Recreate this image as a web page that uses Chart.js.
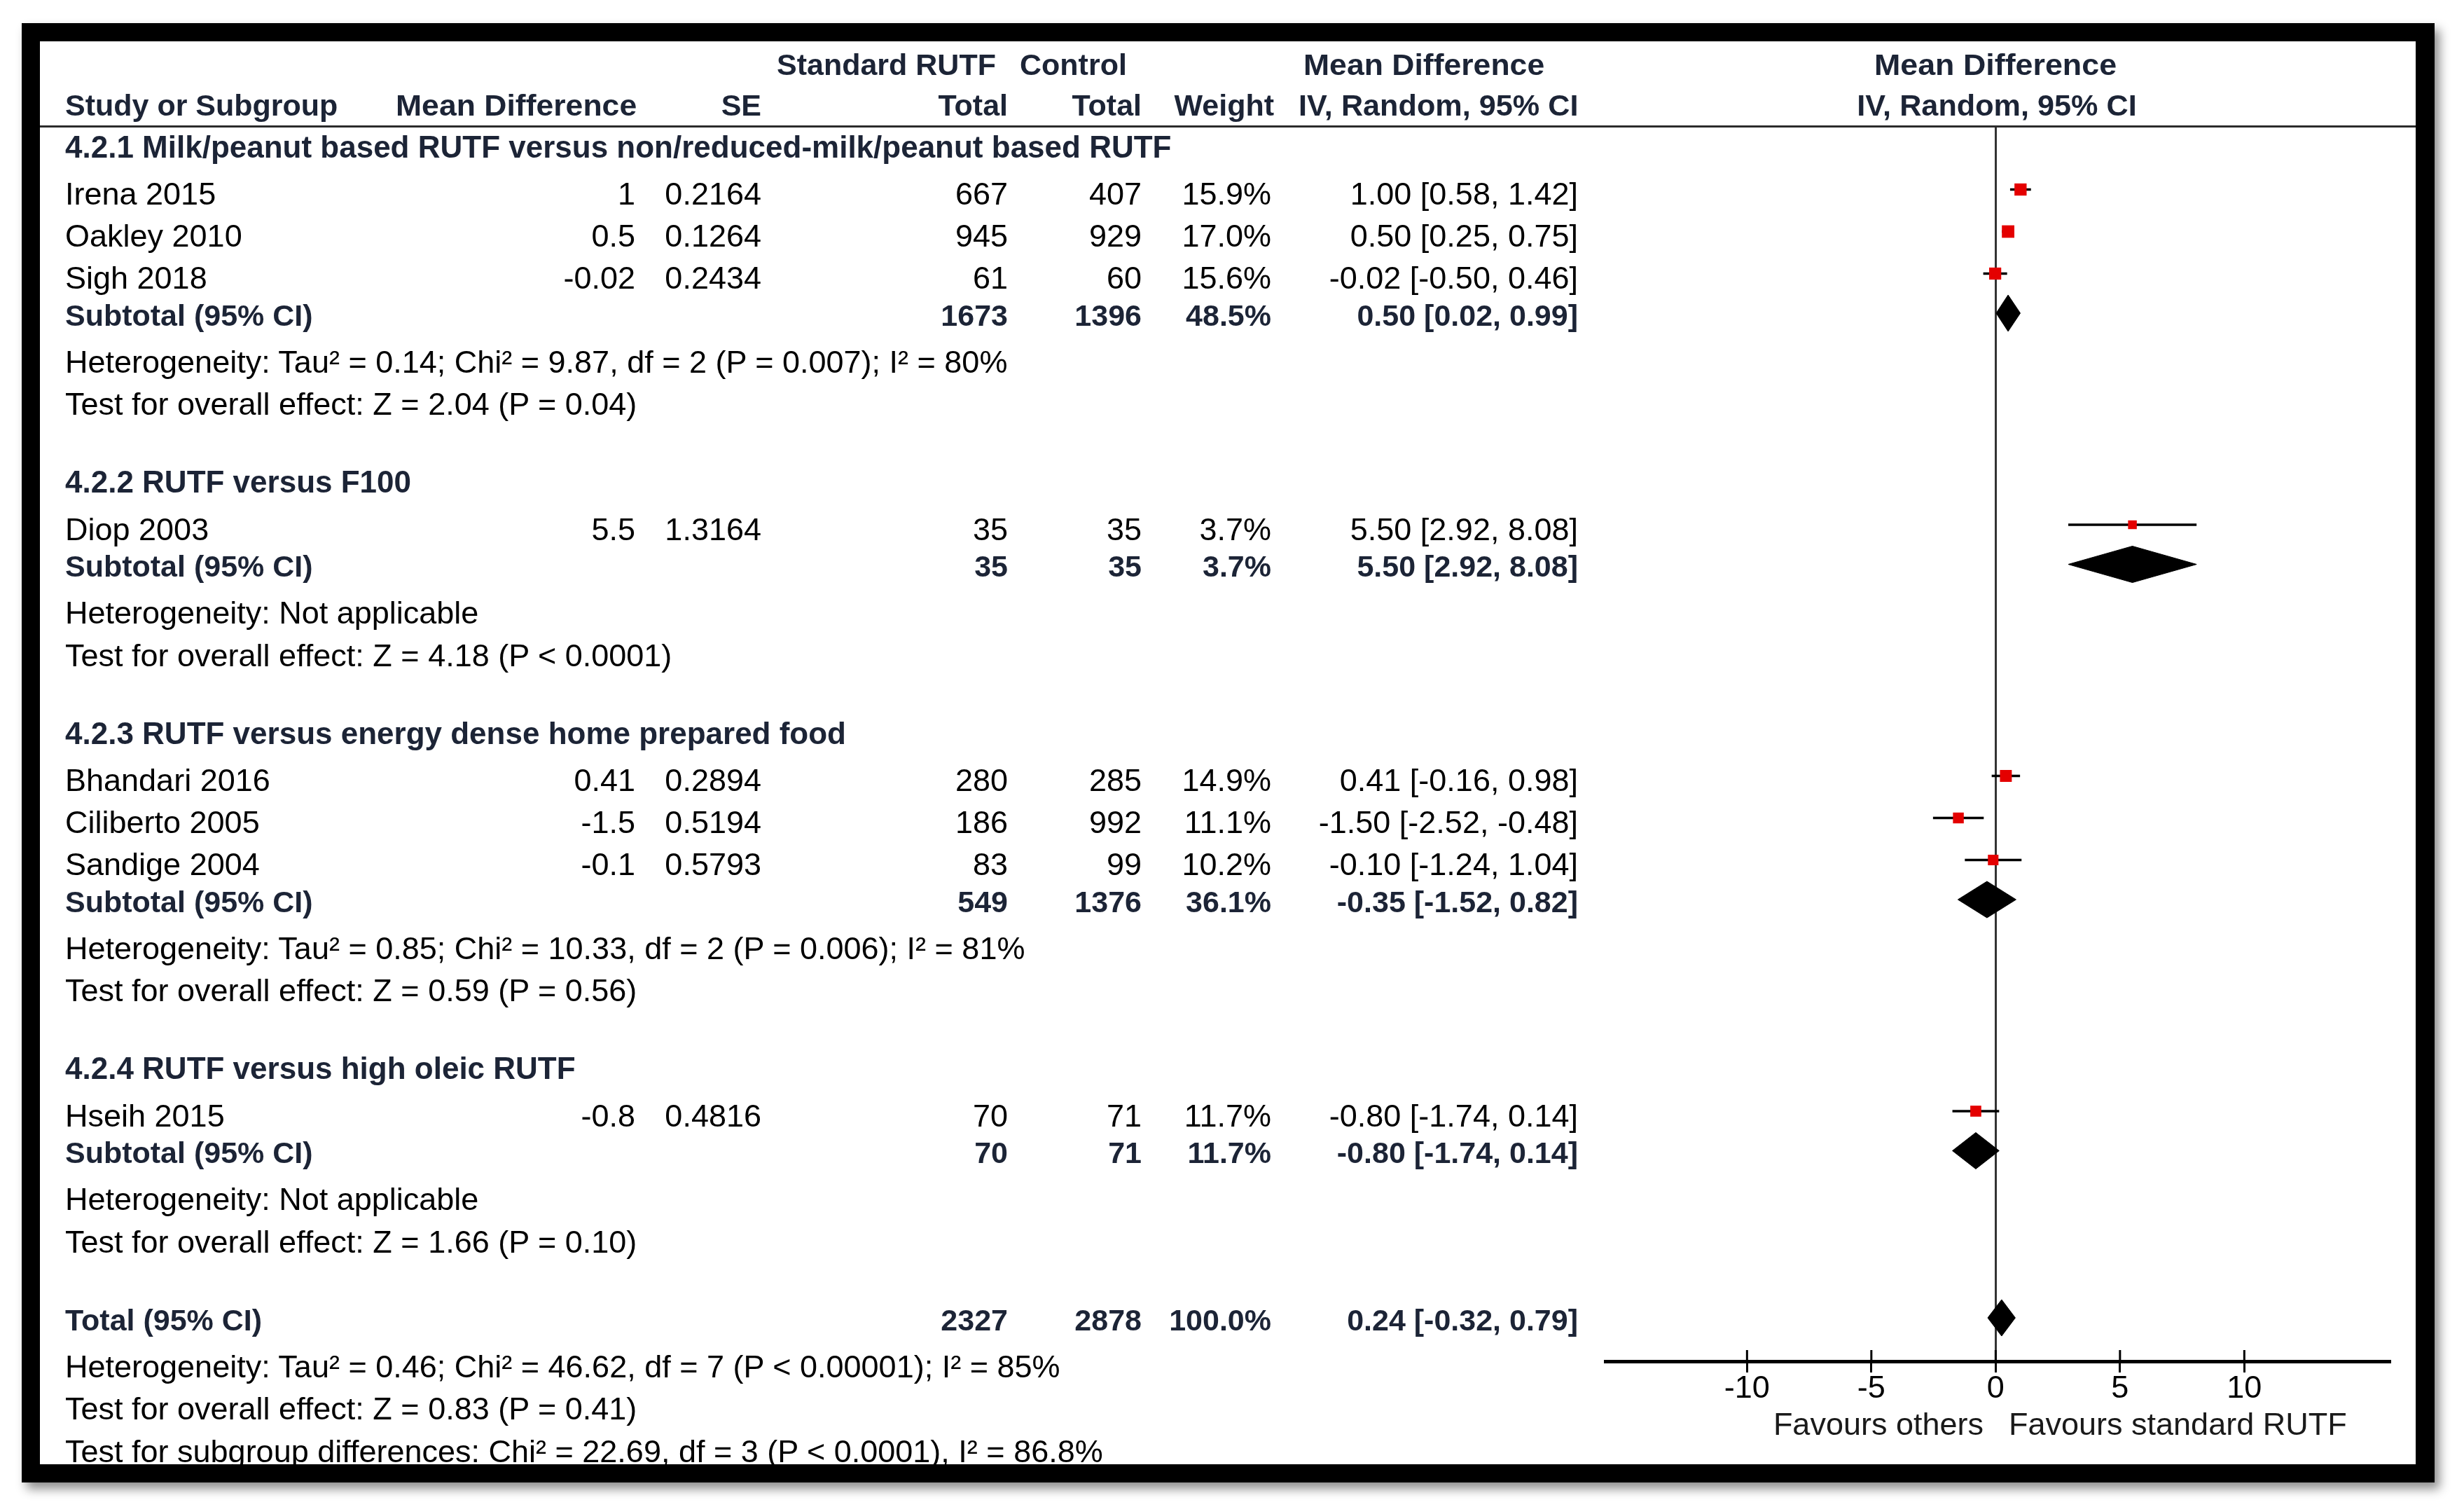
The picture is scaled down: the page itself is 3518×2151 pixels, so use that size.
<!DOCTYPE html>
<html>
<head>
<meta charset="utf-8">
<title>Forest plot - Standard RUTF versus others</title>
<script src="https://cdn.jsdelivr.net/npm/chart.js@4.4.1/dist/chart.umd.min.js"></script>
<style>
  html, body { margin: 0; padding: 0; background: #fff; width: 3518px; height: 2151px; overflow: hidden; }
  #frame { position: absolute; left: 31px; top: 33px; width: 3445px; height: 2083px; background: #000;
           box-shadow: 7px 9px 14px rgba(0, 0, 0, 0.45); }
  #inner { position: absolute; left: 26px; top: 26px; width: 3392px; height: 2031px; background: #fff; overflow: hidden; }
  #plot { position: absolute; left: 0; top: 0; }
  #rule { position: absolute; left: 0; top: 120px; width: 3392px; height: 3px; background: #2b2b2b; }
  .t { position: absolute; white-space: nowrap; font-family: "Liberation Sans", Arial, sans-serif; color: #000; }
  .b { font-weight: bold; color: #1c2436; }
</style>
</head>
<body>
<div id="frame">
  <div id="inner">
    <canvas id="plot" width="3392" height="2031"></canvas>
    <div id="rule"></div>
  </div>
</div>
<script>
// ---- values ----
const groupTitles = [
  '4.2.1 Milk/peanut based RUTF versus non/reduced-milk/peanut based RUTF',
  '4.2.2 RUTF versus F100',
  '4.2.3 RUTF versus energy dense home prepared food',
  '4.2.4 RUTF versus high oleic RUTF'
];
const studyNames = ['Irena 2015', 'Oakley 2010', 'Sigh 2018', 'Diop 2003', 'Bhandari 2016', 'Ciliberto 2005', 'Sandige 2004', 'Hseih 2015'];
const studyGroup = [0, 0, 0, 1, 2, 2, 2, 3];
const meanDiff = [1, 0.5, -0.02, 5.5, 0.41, -1.5, -0.1, -0.8];
const stdErr = [0.2164, 0.1264, 0.2434, 1.3164, 0.2894, 0.5194, 0.5793, 0.4816];
const ciLow = [0.58, 0.25, -0.50, 2.92, -0.16, -2.52, -1.24, -1.74];
const ciHigh = [1.42, 0.75, 0.46, 8.08, 0.98, -0.48, 1.04, 0.14];
const expTotal = [667, 945, 61, 35, 280, 186, 83, 70];
const ctrlTotal = [407, 929, 60, 35, 285, 992, 99, 71];
const weights = [15.9, 17.0, 15.6, 3.7, 14.9, 11.1, 10.2, 11.7];

const subMean = [0.50, 5.50, -0.35, -0.80];
const subLow = [0.02, 2.92, -1.52, -1.74];
const subHigh = [0.99, 8.08, 0.82, 0.14];
const subExp = [1673, 35, 549, 70];
const subCtrl = [1396, 35, 1376, 71];
const subWeight = [48.5, 3.7, 36.1, 11.7];
const subHetero = [
  'Heterogeneity: Tau² = 0.14; Chi² = 9.87, df = 2 (P = 0.007); I² = 80%',
  'Heterogeneity: Not applicable',
  'Heterogeneity: Tau² = 0.85; Chi² = 10.33, df = 2 (P = 0.006); I² = 81%',
  'Heterogeneity: Not applicable'
];
const subEffect = [
  'Test for overall effect: Z = 2.04 (P = 0.04)',
  'Test for overall effect: Z = 4.18 (P < 0.0001)',
  'Test for overall effect: Z = 0.59 (P = 0.56)',
  'Test for overall effect: Z = 1.66 (P = 0.10)'
];

const totalMean = 0.24, totalLow = -0.32, totalHigh = 0.79;
const totalExp = 2327, totalCtrl = 2878, totalWeight = 100.0;
const totalNotes = [
  'Heterogeneity: Tau² = 0.46; Chi² = 46.62, df = 7 (P < 0.00001); I² = 85%',
  'Test for overall effect: Z = 0.83 (P = 0.41)',
  'Test for subgroup differences: Chi² = 22.69, df = 3 (P < 0.0001), I² = 86.8%'
];

const tickValues = [-10, -5, 0, 5, 10];
const axisLabels = ['Favours others', 'Favours standard RUTF'];

// ---- layout (page pixels) ----
const OX = 57, OY = 59;
const REG = 45, BOLD = 43, HEAD = 44;
const COL = { name: 93, md: 907, se: 1087, exp: 1439, ctrl: 1630, wt: 1815, ci: 2253 };
const GAP = {
  'heading>study': 67.5, 'study>study': 60, 'study>subtotal': 52.5, 'subtotal>note': 67,
  'note>note': 60.5, 'note>heading': 111, 'note>total': 111, 'total>note': 67
};

// row list in drawing order, baselines accumulated from the gaps
const rows = [];
groupTitles.forEach((title, g) => {
  rows.push({ kind: 'heading', g });
  studyNames.forEach((n, i) => { if (studyGroup[i] === g) rows.push({ kind: 'study', i }); });
  rows.push({ kind: 'subtotal', g });
  rows.push({ kind: 'note', text: subHetero[g] });
  rows.push({ kind: 'note', text: subEffect[g] });
});
rows.push({ kind: 'total' });
totalNotes.forEach(t => rows.push({ kind: 'note', text: t }));

let yPos = 225;
rows.forEach((r, k) => {
  if (k > 0) yPos += GAP[rows[k - 1].kind + '>' + r.kind];
  r.y = yPos;
});

const ciText = (m, lo, hi) => `${m.toFixed(2)} [${lo.toFixed(2)}, ${hi.toFixed(2)}]`;
const squareSide = w => 11 + 0.4 * w;

// ---- datasets ----
const datasets = [];
const squares = [];
const squareSizes = [];
function diamond(m, lo, hi, yc) {
  const h = 26;
  datasets.push({
    data: [{ x: lo, y: yc }, { x: m, y: yc - h }, { x: hi, y: yc }, { x: m, y: yc + h }, { x: lo, y: yc }],
    showLine: true, fill: 'shape', tension: 0,
    borderColor: '#000', backgroundColor: '#000', borderWidth: 1,
    pointRadius: 0, order: 1
  });
}
rows.forEach(r => {
  if (r.kind === 'study') {
    const yc = r.y - 22;
    datasets.push({
      data: [{ x: ciLow[r.i], y: yc }, { x: ciHigh[r.i], y: yc }],
      showLine: true, borderColor: '#000', borderWidth: 3.5, pointRadius: 0, order: 3
    });
    squares.push({ x: meanDiff[r.i], y: yc });
    squareSizes.push(squareSide(weights[r.i]));
  } else if (r.kind === 'subtotal') {
    diamond(subMean[r.g], subLow[r.g], subHigh[r.g], r.y - 18);
  } else if (r.kind === 'total') {
    diamond(totalMean, totalLow, totalHigh, r.y - 18);
  }
});
datasets.push({
  data: squares,
  pointStyle: 'rect',
  pointRadius: ctx => squareSizes[ctx.dataIndex] / Math.SQRT2,
  backgroundColor: '#e40000', borderColor: '#e40000', borderWidth: 0,
  order: 0
});

// upper half of the tick marks (they cross the axis line)
const tickStubs = {
  id: 'tickStubs',
  afterDraw(chart) {
    const xs = chart.scales.x;
    const yb = chart.chartArea.bottom;
    const c = chart.ctx;
    c.save();
    c.strokeStyle = '#000';
    c.lineWidth = 3;
    tickValues.forEach(v => {
      const px = xs.getPixelForValue(v);
      c.beginPath();
      c.moveTo(px, yb - 16);
      c.lineTo(px, yb);
      c.stroke();
    });
    c.restore();
  }
};

const ctx = document.getElementById('plot').getContext('2d');
const chart = new Chart(ctx, {
  type: 'scatter',
  data: { datasets },
  options: {
    responsive: false,
    animation: false,
    devicePixelRatio: 1,
    events: [],
    layout: { padding: { left: 2235, right: 37, top: 121, bottom: 84 } },
    plugins: { legend: { display: false }, tooltip: { enabled: false } },
    scales: {
      x: {
        type: 'linear', min: -15.7, max: 15.85,
        afterBuildTicks: s => { s.ticks = tickValues.map(v => ({ value: v })); },
        ticks: {
          color: '#000', padding: 1,
          font: { family: '"Liberation Sans", Arial, sans-serif', size: 45, lineHeight: 1 },
          callback: v => String(v)
        },
        grid: {
          drawOnChartArea: true,
          color: c => (c.tick && c.tick.value === 0 ? '#333' : 'rgba(0,0,0,0)'),
          lineWidth: 3, tickColor: '#000', tickWidth: 3, tickLength: 16
        },
        border: { display: true, color: '#000', width: 5 }
      },
      y: { type: 'linear', min: 180, max: 1943, reverse: true, display: false }
    }
  },
  plugins: [tickStubs]
});

// ---- table text ----
const inner = document.getElementById('inner');
const W = inner.clientWidth;
const py = v => chart.scales.y.getPixelForValue(v);

function put(text, x, base, align, bold, size, fit) {
  const el = document.createElement('div');
  el.className = bold ? 't b' : 't';
  el.textContent = text;
  el.style.fontSize = size + 'px';
  el.style.lineHeight = size + 'px';
  el.style.top = (py(base) - 0.8465 * size) + 'px';
  const ix = x - OX;
  let shift = '';
  if (align === 'right') { el.style.right = (W - ix) + 'px'; el.style.transformOrigin = 'right center'; }
  else if (align === 'center') { el.style.left = ix + 'px'; shift = 'translateX(-50%) '; el.style.transformOrigin = 'center center'; }
  else { el.style.left = ix + 'px'; el.style.transformOrigin = 'left center'; }
  inner.appendChild(el);
  let t = shift;
  if (fit) t += `scaleX(${fit / el.offsetWidth})`;
  if (t) el.style.transform = t;
  return el;
}

// column headers
put('Standard RUTF', 1109, 107, 'left', true, BOLD);
put('Control', 1456, 107, 'left', true, BOLD);
put('Mean Difference', 1861, 107, 'left', true, BOLD, 344);
put('Mean Difference', 2849, 107, 'center', true, BOLD, 346);
put('Study or Subgroup', COL.name, 165, 'left', true, BOLD);
put('Mean Difference', 909, 165, 'right', true, BOLD, 344);
put('SE', COL.se, 165, 'right', true, BOLD);
put('Total', COL.exp, 165, 'right', true, BOLD);
put('Total', COL.ctrl, 165, 'right', true, BOLD);
put('Weight', 1819, 165, 'right', true, BOLD);
put('IV, Random, 95% CI', COL.ci, 165, 'right', true, BOLD, 399);
put('IV, Random, 95% CI', 2851, 165, 'center', true, BOLD, 399);

rows.forEach(r => {
  if (r.kind === 'heading') {
    put(groupTitles[r.g], COL.name, r.y, 'left', true, HEAD);
  } else if (r.kind === 'study') {
    const i = r.i;
    put(studyNames[i], COL.name, r.y, 'left', false, REG);
    put(String(meanDiff[i]), COL.md, r.y, 'right', false, REG);
    put(String(stdErr[i]), COL.se, r.y, 'right', false, REG);
    put(String(expTotal[i]), COL.exp, r.y, 'right', false, REG);
    put(String(ctrlTotal[i]), COL.ctrl, r.y, 'right', false, REG);
    put(weights[i].toFixed(1) + '%', COL.wt, r.y, 'right', false, REG);
    put(ciText(meanDiff[i], ciLow[i], ciHigh[i]), COL.ci, r.y, 'right', false, REG);
  } else if (r.kind === 'subtotal') {
    const g = r.g;
    put('Subtotal (95% CI)', COL.name, r.y, 'left', true, BOLD);
    put(String(subExp[g]), COL.exp, r.y, 'right', true, BOLD);
    put(String(subCtrl[g]), COL.ctrl, r.y, 'right', true, BOLD);
    put(subWeight[g].toFixed(1) + '%', COL.wt, r.y, 'right', true, BOLD);
    put(ciText(subMean[g], subLow[g], subHigh[g]), COL.ci, r.y, 'right', true, BOLD);
  } else if (r.kind === 'total') {
    put('Total (95% CI)', COL.name, r.y, 'left', true, BOLD);
    put(String(totalExp), COL.exp, r.y, 'right', true, BOLD);
    put(String(totalCtrl), COL.ctrl, r.y, 'right', true, BOLD);
    put(totalWeight.toFixed(1) + '%', COL.wt, r.y, 'right', true, BOLD);
    put(ciText(totalMean, totalLow, totalHigh), COL.ci, r.y, 'right', true, BOLD);
  } else {
    put(r.text, COL.name, r.y, 'left', false, REG);
  }
});

// axis direction labels
put(axisLabels[0], 2832, 2048, 'right', false, 45).style.color = '#1a1a1a';
put(axisLabels[1], 2868, 2048, 'left', false, 45).style.color = '#1a1a1a';
</script>
</body>
</html>
